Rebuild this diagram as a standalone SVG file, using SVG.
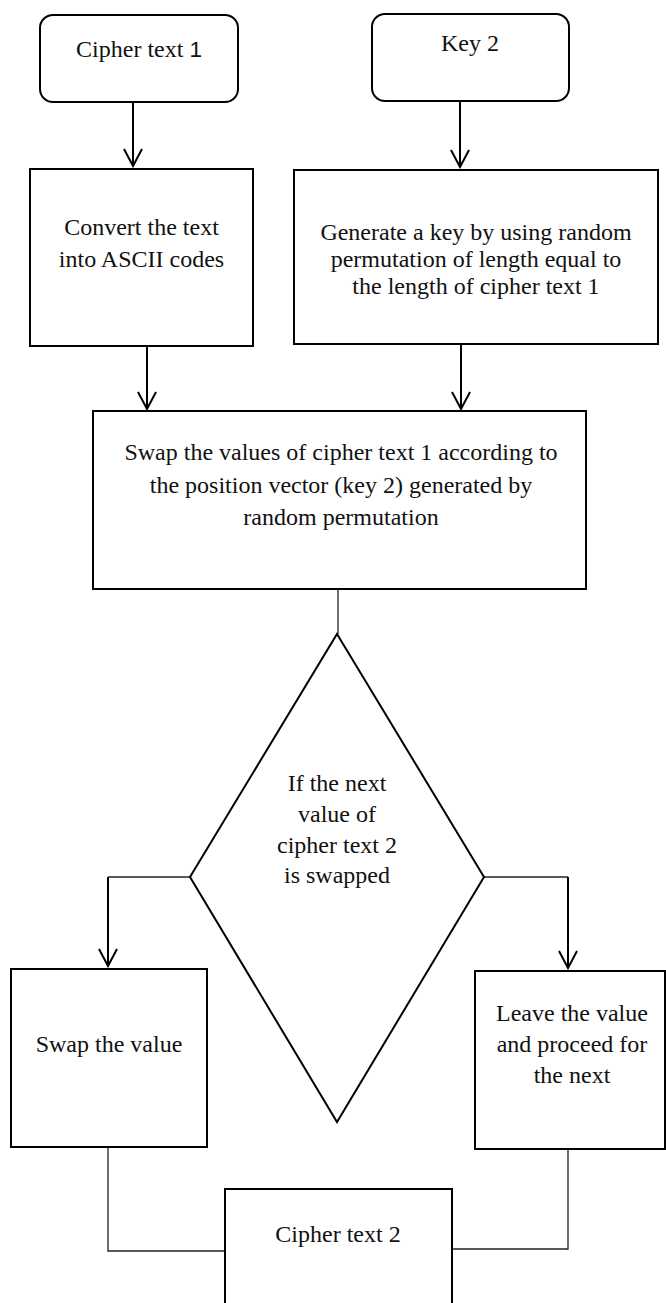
<svg xmlns="http://www.w3.org/2000/svg" width="666" height="1303" viewBox="0 0 666 1303">
<style>
.box{fill:#fff;stroke:#000;stroke-width:2}
.t{font-family:"Liberation Serif","Times New Roman",serif;font-size:24px;fill:#111;text-anchor:middle}
.thin{fill:none;stroke:#222;stroke-width:1.3}
.arr{fill:none;stroke:#000;stroke-width:2;marker-end:url(#ah)}
</style>
<defs>
<marker id="ah" viewBox="-20 -12 22 24" refX="0" refY="0" markerWidth="22" markerHeight="24" markerUnits="userSpaceOnUse" orient="auto">
<path d="M-17,-9 L0,0 L-17,9" fill="none" stroke="#000" stroke-width="2"/>
</marker>
</defs>
<rect width="666" height="1303" fill="#fff"/>
<g id="connectors">
<line class="arr" x1="133" y1="102" x2="133" y2="166"/>
<line class="arr" x1="460" y1="101" x2="460" y2="167"/>
<line class="arr" x1="147" y1="346" x2="147" y2="409"/>
<line class="arr" x1="461" y1="344" x2="461" y2="409"/>
<line class="thin" x1="338" y1="589" x2="338" y2="634"/>
<polyline class="thin" points="190,877 108,877"/>
<line class="arr" x1="108" y1="877" x2="108" y2="966"/>
<polyline class="thin" points="484,877 568,877"/>
<line class="arr" x1="568" y1="877" x2="568" y2="968"/>
<polyline class="thin" points="108,1147 108,1251 225,1251"/>
<polyline class="thin" points="568,1149 568,1249 452,1249"/>
</g>
<g id="cipher1">
<rect class="box" x="40" y="15" width="198" height="87" rx="13"/>
<text class="t" x="139" y="57">Cipher text <tspan font-family="Liberation Sans, Arial, sans-serif" font-size="22.5">1</tspan></text>
</g>
<g id="key2">
<rect class="box" x="372" y="14" width="197" height="87" rx="13"/>
<text class="t" x="470" y="51">Key 2</text>
</g>
<g id="convert">
<rect class="box" x="30" y="169" width="223" height="177"/>
<text class="t" x="141.5" y="235">Convert the text</text>
<text class="t" x="141.5" y="267">into ASCII codes</text>
</g>
<g id="generate">
<rect class="box" x="294" y="170" width="364" height="174"/>
<text class="t" x="476" y="240">Generate a key by using random</text>
<text class="t" x="476" y="267">permutation of length equal to</text>
<text class="t" x="476" y="294">the length of cipher text 1</text>
</g>
<g id="swapvalues">
<rect class="box" x="93" y="411" width="493" height="178"/>
<text class="t" x="341" y="460">Swap the values of cipher text 1 according to</text>
<text class="t" x="341" y="493">the position vector (key 2) generated by</text>
<text class="t" x="341" y="525">random permutation</text>
</g>
<g id="decision">
<polygon points="337,634 484,877 337,1122 190,877" fill="#fff" stroke="#000" stroke-width="2"/>
<text class="t" x="337" y="791">If the next</text>
<text class="t" x="337" y="822">value of</text>
<text class="t" x="337" y="853">cipher text 2</text>
<text class="t" x="337" y="883">is swapped</text>
</g>
<g id="swapvalue">
<rect class="box" x="11" y="969" width="196" height="178"/>
<text class="t" x="109" y="1052">Swap the value</text>
</g>
<g id="leave">
<rect class="box" x="475" y="971" width="190" height="178"/>
<text class="t" x="572" y="1021">Leave the value</text>
<text class="t" x="572" y="1052">and proceed for</text>
<text class="t" x="572" y="1083">the next</text>
</g>
<g id="cipher2">
<rect class="box" x="225" y="1189" width="227" height="130"/>
<text class="t" x="338" y="1242">Cipher text 2</text>
</g>
</svg>
